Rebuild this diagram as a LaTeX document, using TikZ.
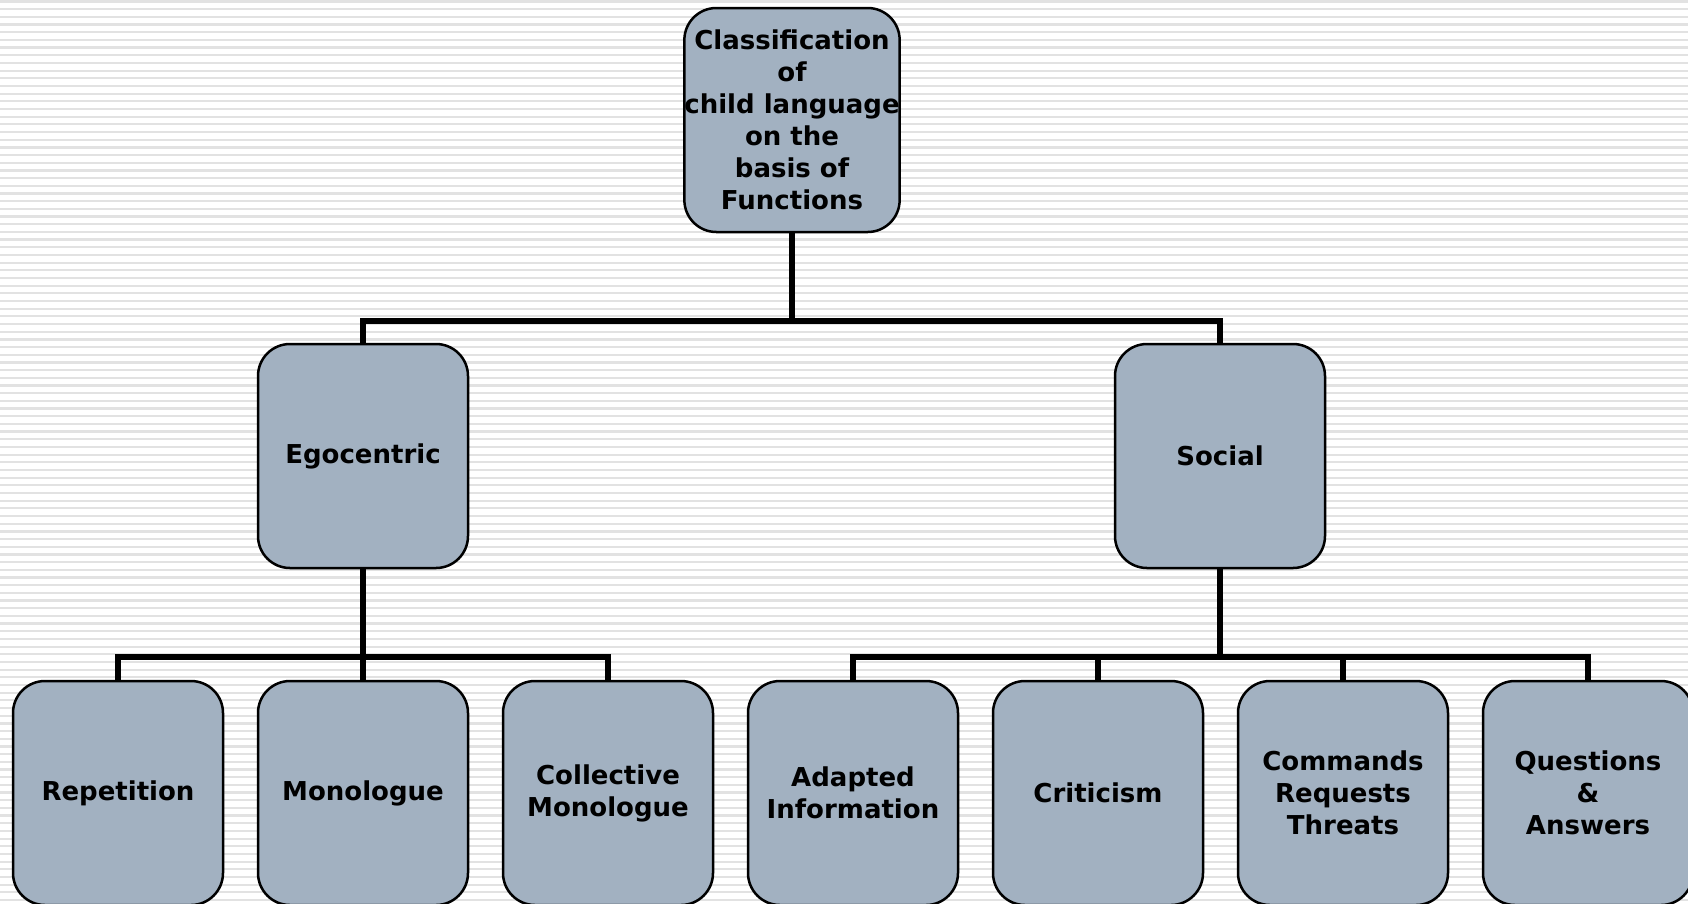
\documentclass[tikz,border=0pt]{standalone}
\usepackage{fontspec}
\setmainfont{DejaVu Sans}
\definecolor{boxfill}{RGB}{162,177,193}
\definecolor{stripe}{RGB}{226,226,226}
\begin{document}
\begin{tikzpicture}[x=1pt,y=-1pt,
  box/.style={draw=black, line width=2.5pt, fill=boxfill, rounded corners=32pt,
    minimum width=210pt, minimum height=224pt, inner sep=0pt, align=center,
    font=\fontsize{26}{32}\selectfont\bfseries},
  conn/.style={draw=black, line width=6pt, line join=miter, line cap=rect}]
\useasboundingbox (0,0) rectangle (1688,903);
% striped background
\fill[white] (0,0) rectangle (1688,903);
\foreach \i in {0,...,118}
  \fill[stripe] (0,\i*7.68+0.4) rectangle (1688,\i*7.68+2.6);

% boxes
\node[box] (root) at (792,120) {Classification\\of\\child language\\on the\\basis of\\Functions};
\node[box] (ego) at (363,456) {Egocentric};
\node[box] (soc) at (1220,456) {Social};
\node[box] (rep) at (118,793) {Repetition};
\node[box] (mono) at (363,793) {Monologue};
\node[box] (coll) at (608,793) {Collective\\Monologue};
\node[box] (adap) at (853,793) {Adapted\\Information};
\node[box] (crit) at (1098,793) {Criticism};
\node[box] (comm) at (1343,793) {Commands\\Requests\\Threats};
\node[box] (ques) at (1588,793) {Questions\\\&\\Answers};

% bus junctions
\coordinate (j0) at (792,320.5);
\coordinate (j1) at (363,656.5);
\coordinate (j2) at (1220,656.5);

% connectors
\draw[conn, line cap=butt] (root.south) -- (j0);
\draw[conn, line cap=butt] (ego.north) |- (j0) -| (soc.north);
\draw[conn, line cap=butt] (ego.south) -- (mono.north);
\draw[conn, line cap=butt] (rep.north) |- (j1) -| (coll.north);
\draw[conn, line cap=butt] (soc.south) -- (j2);
\draw[conn, line cap=butt] (adap.north) |- (j2) -| (ques.north);
\draw[conn, line cap=butt] (crit.north) -- (crit.north |- j2);
\draw[conn, line cap=butt] (comm.north) -- (comm.north |- j2);
\end{tikzpicture}
\end{document}
